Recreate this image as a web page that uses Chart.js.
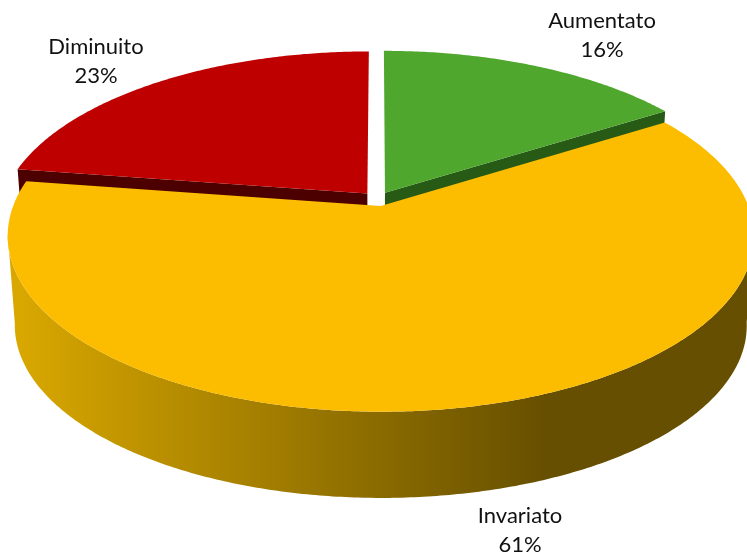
<!DOCTYPE html>
<html>
<head>
<meta charset="utf-8">
<title>Pie 3D</title>
<script src="https://cdn.jsdelivr.net/npm/chart.js@4/dist/chart.umd.min.js"></script>
<style>
html, body { margin: 0; padding: 0; background: #fff; overflow: hidden; }
canvas { display: block; }
</style>
</head>
<body>
<canvas id="pie" width="747" height="558"></canvas>
<script>
const categories = ['Aumentato', 'Invariato', 'Diminuito'];
const percentages = [16, 61.4, 22.6];

const topColors = ['#4FA72E', '#FCBD00', '#BF0000'];
const wallColors = ['#275A15', '#664F00', '#4D0000'];

// where the label block sits, per slice (centre x, centre y of first line)
const labelSpots = [[602, 21], [520, 516], [96, 47]];

// perspective of the tilted disc, fitted by eye against the picture
const view = { x: 377.5, y: 199, rx: 365, ry: 168, tilt: 0.17,
               floorY: 289, floorRx: 358, floorRy: 165 };

function project(u, v, floor) {
    const w = 1 - view.tilt * v;
    if (floor) return [view.x + view.floorRx * u / w, view.floorY + view.floorRy * v / w];
    return [view.x + view.rx * u / w, view.y + view.ry * v / w];
}

// outline of one slice in unit disc coords, taken from the arc element
function sliceShape(arc) {
    const mid = (arc.startAngle + arc.endAngle) / 2;
    const e = (arc.options.offset / 4) / arc.outerRadius;
    return { ox: Math.cos(mid) * e, oy: Math.sin(mid) * e, a0: arc.startAngle, a1: arc.endAngle };
}

function rimAngles(s) {
    const list = [];
    const n = Math.ceil((s.a1 - s.a0) / 0.01);
    for (let i = 0; i <= n; i++) list.push(s.a0 + (s.a1 - s.a0) * i / n);
    return list;
}

function rimPoints(s, angles, floor) {
    return angles.map(a => project(s.ox + Math.cos(a), s.oy + Math.sin(a), floor));
}

function fillPoly(ctx, pts, fill) {
    ctx.beginPath();
    pts.forEach((p, i) => i ? ctx.lineTo(p[0], p[1]) : ctx.moveTo(p[0], p[1]));
    ctx.closePath();
    ctx.fillStyle = fill;
    ctx.fill();
}

const pie3d = {
    id: 'pie3d',
    beforeDatasetsDraw(chart) {
        const ctx = chart.ctx;
        const arcs = chart.getDatasetMeta(0).data;
        // back slices first, the big front one goes over them
        [2, 0, 1].forEach(i => {
            const s = sliceShape(arcs[i]);
            const angles = rimAngles(s);
            const top = rimPoints(s, angles, false);
            const floor = rimPoints(s, angles, true);
            const apexTop = project(s.ox, s.oy, false);
            const apexFloor = project(s.ox, s.oy, true);
            let wall = wallColors[i];
            if (i === 1) {
                wall = ctx.createLinearGradient(20, 0, 545, 0);
                wall.addColorStop(0, '#D8A700');
                wall.addColorStop(1, '#664F00');
            }
            // cut faces, only the ones turned towards the viewer
            if (Math.cos(s.a0) < -0.01) {
                fillPoly(ctx, [apexTop, top[0], floor[0], apexFloor], wallColors[i]);
            }
            if (Math.cos(s.a1) > 0.01) {
                fillPoly(ctx, [apexTop, top[top.length - 1], floor[floor.length - 1], apexFloor], wallColors[i]);
            }
            // outer wall, only the rim part facing the viewer (keeps the strip from folding over itself)
            const front = angles.filter(a => Math.sin(a) > 0.15);
            if (front.length > 1) {
                const wallTop = rimPoints(s, front, false);
                const wallFloor = rimPoints(s, front, true);
                fillPoly(ctx, wallTop.concat(wallFloor.reverse()), wall);
            }
            // top face
            fillPoly(ctx, [apexTop].concat(top), topColors[i]);
        });
        return false;
    },
    afterDraw(chart) {
        const ctx = chart.ctx;
        ctx.save();
        ctx.font = '22px Lato, sans-serif';
        ctx.fillStyle = '#111';
        ctx.textAlign = 'center';
        ctx.textBaseline = 'middle';
        categories.forEach((name, i) => {
            ctx.fillText(name, labelSpots[i][0], labelSpots[i][1]);
            ctx.fillText(Math.round(percentages[i]) + '%', labelSpots[i][0], labelSpots[i][1] + 29);
        });
        ctx.restore();
    }
};

new Chart(document.getElementById('pie'), {
    type: 'pie',
    data: {
        labels: categories,
        datasets: [{ data: percentages, backgroundColor: topColors, borderWidth: 0, offset: 44 }]
    },
    options: {
        responsive: false,
        animation: false,
        plugins: { legend: { display: false }, tooltip: { enabled: false } }
    },
    plugins: [pie3d]
});
</script>
</body>
</html>
